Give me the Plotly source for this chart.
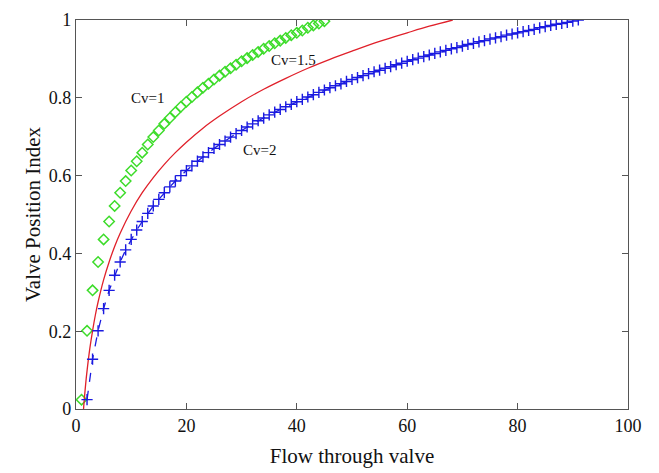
import plotly.graph_objects as go

# Cv = 1 (green diamonds)
cv1_x = list(range(1, 46))
cv1_y = [0.024, 0.201, 0.305, 0.378, 0.436, 0.482, 0.522, 0.556, 0.586, 0.613,
         0.637, 0.659, 0.680, 0.699, 0.716, 0.733, 0.748, 0.763, 0.777, 0.790,
         0.802, 0.814, 0.826, 0.836, 0.847, 0.857, 0.867, 0.876, 0.885, 0.894,
         0.902, 0.910, 0.918, 0.926, 0.933, 0.940, 0.947, 0.954, 0.961, 0.967,
         0.973, 0.980, 0.986, 0.991, 0.997]

# Cv = 1.5 (red line)
cv15_x = [1.365, 1.5, 1.75, 2, 2.5, 3, 3.5, 4, 5, 6, 7, 8, 10, 12, 14, 16, 18, 20,
          23, 26, 30, 34, 38, 42, 46, 50, 55, 60, 64, 68.25]
cv15_y = [0.0, 0.024, 0.064, 0.098, 0.155, 0.201, 0.241, 0.275, 0.332, 0.378,
          0.418, 0.452, 0.509, 0.556, 0.595, 0.629, 0.659, 0.686, 0.722, 0.753,
          0.790, 0.822, 0.850, 0.876, 0.899, 0.920, 0.945, 0.967, 0.984, 1.000]

# Cv = 2 (blue crosses, dashed)
cv2_x = list(range(2, 92))
cv2_y = [0.024, 0.128, 0.201, 0.258, 0.305, 0.344, 0.378, 0.409, 0.436, 0.460,
         0.482, 0.503, 0.522, 0.539, 0.556, 0.571, 0.586, 0.600, 0.613, 0.625,
         0.637, 0.648, 0.659, 0.670, 0.680, 0.689, 0.699, 0.708, 0.716, 0.725,
         0.733, 0.741, 0.748, 0.756, 0.763, 0.770, 0.777, 0.783, 0.790, 0.796,
         0.802, 0.808, 0.814, 0.820, 0.826, 0.831, 0.836, 0.842, 0.847, 0.852,
         0.857, 0.862, 0.867, 0.871, 0.876, 0.880, 0.885, 0.889, 0.894, 0.898,
         0.902, 0.906, 0.910, 0.914, 0.918, 0.922, 0.926, 0.929, 0.933, 0.937,
         0.940, 0.944, 0.947, 0.951, 0.954, 0.957, 0.961, 0.964, 0.967, 0.970,
         0.973, 0.976, 0.980, 0.983, 0.986, 0.989, 0.991, 0.994, 0.997, 1.000]

labels = ["Cv=1", "Cv=1.5", "Cv=2"]
label_x = [13.0, 39.4, 33.3]
label_y = [0.80, 0.896, 0.665]

x_ticks = [0, 20, 40, 60, 80, 100]
y_ticks = [0, 0.2, 0.4, 0.6, 0.8, 1]
y_tick_text = ["0", "0.2", "0.4", "0.6", "0.8", "1"]

SERIF = "Liberation Serif"

fig = go.Figure()
fig.add_trace(go.Scatter(
    x=cv1_x, y=cv1_y, mode="markers", name=labels[0],
    marker=dict(symbol="diamond-open", size=8, color="#3ddc2a",
                line=dict(width=1.5, color="#3ddc2a")),
))
fig.add_trace(go.Scatter(
    x=cv15_x, y=cv15_y, mode="lines", name=labels[1],
    line=dict(color="#e0202a", width=1.3, shape="spline"),
))
fig.add_trace(go.Scatter(
    x=cv2_x, y=cv2_y, mode="lines+markers", name=labels[2],
    line=dict(color="#1a1ae0", width=1.3, dash="dash"),
    marker=dict(symbol="cross-thin-open", size=8, color="#1a1ae0",
                line=dict(width=1.4, color="#1a1ae0")),
))

for t, lx, ly in zip(labels, label_x, label_y):
    fig.add_annotation(x=lx, y=ly, text=t, showarrow=False,
                       font=dict(family=SERIF, size=15, color="#111"))

axis_common = dict(
    showline=True, linecolor="#555", linewidth=1.3, mirror="ticks",
    ticks="inside", ticklen=6, tickcolor="#555", showgrid=False, zeroline=False,
    tickfont=dict(family=SERIF, size=18, color="#111"),
)
fig.update_xaxes(range=[0, 100], tickvals=x_ticks,
                 title=dict(text="Flow through valve", standoff=13,
                            font=dict(family=SERIF, size=21, color="#111")),
                 **axis_common)
fig.update_yaxes(range=[0, 1], tickvals=y_ticks, ticktext=y_tick_text,
                 title=dict(text="Valve Position Index", standoff=2,
                            font=dict(family=SERIF, size=21, color="#111")),
                 **axis_common)

fig.update_layout(
    width=659, height=473, showlegend=False,
    plot_bgcolor="white", paper_bgcolor="white",
    margin=dict(l=76, r=31, t=10, b=63),
)
fig.write_html("out.html", config={"displayModeBar": False},
               post_script="document.body.style.margin='0';document.body.style.overflow='hidden';")
